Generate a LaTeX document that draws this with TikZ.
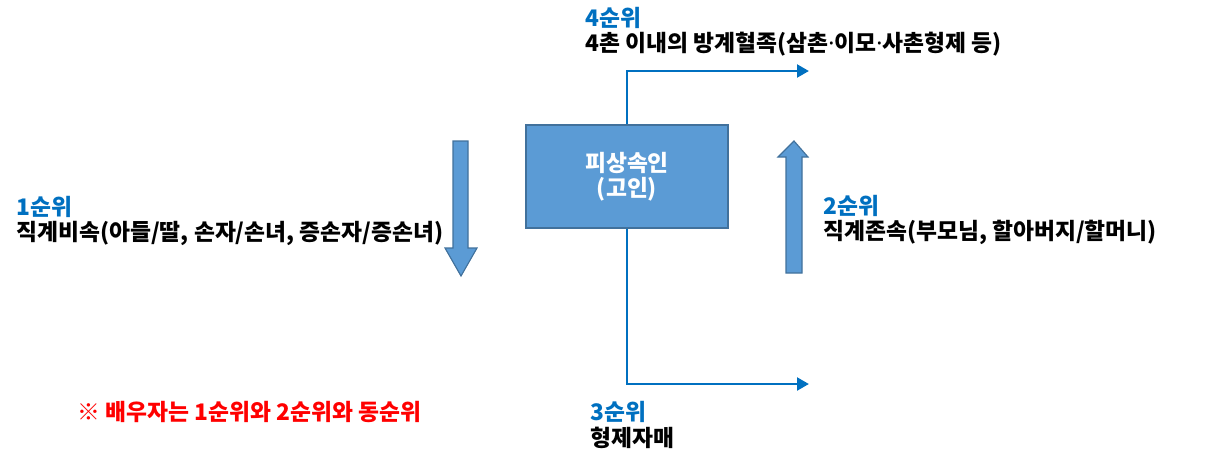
\documentclass[tikz,border=0pt]{standalone}
\usepackage{fontspec}
\setmainfont{Noto Sans CJK KR}
\newfontfamily\latinfont{Noto Sans}
\newcommand{\mdot}{{\latinfont\bfseries ·}}
\usetikzlibrary{arrows.meta}
\definecolor{boxblue}{HTML}{5B9BD5}
\definecolor{boxedge}{HTML}{41719C}
\definecolor{lineblue}{HTML}{0070C0}
\begin{document}
\begin{tikzpicture}[
        x=0.025cm, y=-0.025cm,
        every node/.style={inner sep=0pt, font=\fontsize{16.2}{18}\selectfont\bfseries},
        heir/.style={anchor=west, align=left},
        deceased/.style={draw=boxedge, line width=1.4pt, fill=boxblue, text=white,
            minimum width=202*0.025cm, minimum height=103*0.025cm, align=center},
        branch/.style={lineblue, line width=2.1pt, -{Triangle[length=8.5pt, width=9pt]}},
        blockarrow/.style={fill=boxblue, draw=boxedge, line width=0.8pt, line join=miter}
    ]
        \useasboundingbox (0,0) rectangle (1209,463);

        % 피상속인
        \node [deceased] (v) at (627,176.5) {피상속인\\(고인)};

        % 순위별 상속인
        \node [heir] (r1) at (16,221) {\textcolor{lineblue}{1순위}\\직계비속(아들/딸, 손자/손녀, 증손자/증손녀)};
        \node [heir] (r2) at (823,220) {\textcolor{lineblue}{2순위}\\직계존속(부모님, 할아버지/할머니)};
        \node [heir] (r3) at (590,425) {\textcolor{lineblue}{3순위}\\형제자매};
        \node [heir] (r4) at (585,32) {\textcolor{lineblue}{4순위}\\4촌 이내의 방계혈족(삼촌\mdot 이모\mdot 사촌형제 등)};

        % 배우자
        \node [heir, text=red] (sp) at (77,412) {※ 배우자는 1순위와 2순위와 동순위};

        % 블록 화살표
        \draw [blockarrow] (453,141) -- (468,141) -- (468,248) -- (477,248) -- (461,276)
            -- (445,248) -- (453,248) -- cycle;
        \draw [blockarrow] (786,273) -- (802,273) -- (802,157) -- (808,157) -- (794,141)
            -- (778,157) -- (786,157) -- cycle;

        % 3순위, 4순위 연결선
        \coordinate (c4) at (809,71);
        \coordinate (c3) at (809,384);
        \draw [branch] (v.north) |- (c4);
        \draw [branch] (v.south) |- (c3);
    \end{tikzpicture}
\end{document}
